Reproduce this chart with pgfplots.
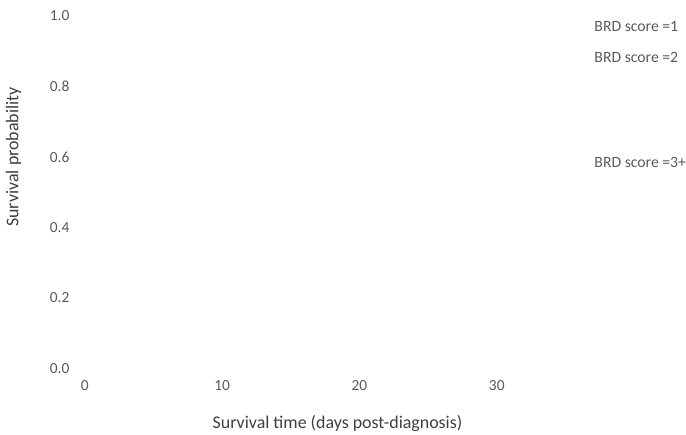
\documentclass[border=0pt]{standalone}
\usepackage{pgfplots}
\pgfplotsset{compat=1.18}
\usepackage{fontspec}
\setmainfont{Carlito}

\definecolor{ticktxt}{HTML}{5A5A5A}
\definecolor{labtxt}{HTML}{3F3F3F}

\begin{document}
\begin{tikzpicture}[x=1bp,y=1bp]
	\begin{axis}[
		scale only axis,
		width=495bp, height=353bp,
		xmin=0, xmax=36,
		ymin=0, ymax=1,
		axis line style={draw=none},
		clip=false,
		xtick={0,10,20,30},
		ytick={0,0.2,0.4,0.6,0.8,1.0},
		yticklabel style={/pgf/number format/fixed,/pgf/number format/fixed zerofill,/pgf/number format/precision=1},
		/pgf/number format/assume math mode=true,
		tick style={draw=none},
		ticklabel style={font=\fontsize{15.5}{18}\selectfont, text=ticktxt},
		yticklabel style={anchor=east, xshift=-12bp},
		xticklabel style={anchor=north, yshift=-9bp},
	]
	% end-of-curve labels for the three groups
	\addplot[only marks, mark=none,
		point meta=explicit symbolic,
		nodes near coords,
		nodes near coords align={anchor=west},
		every node near coord/.append style={font=\fontsize{15.8}{18}\selectfont, text=ticktxt, inner sep=0pt},
	] coordinates {
		(37.1,0.969) [BRD score =1]
		(37.1,0.881) [BRD score =2]
		(37.1,0.584) [BRD score =3+]
	};
	\node[font=\fontsize{18}{21}\selectfont, text=labtxt, rotate=90]
		at (rel axis cs:-0.144,0.60) {Survival probability};
	\node[font=\fontsize{18}{21}\selectfont, text=labtxt]
		at (axis cs:18.4,-0.155) {Survival time (days post-diagnosis)};
	\end{axis}
	\path[use as bounding box] (-85,-65) rectangle (601,369);
\end{tikzpicture}
\end{document}
